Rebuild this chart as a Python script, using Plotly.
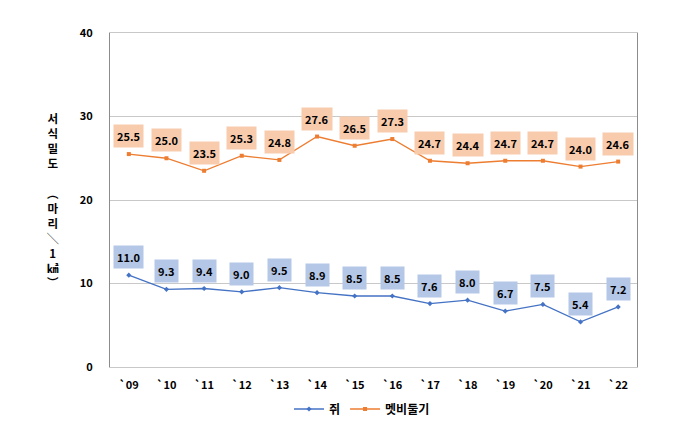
import plotly.graph_objects as go

years = ["`09", "`10", "`11", "`12", "`13", "`14", "`15", "`16", "`17", "`18", "`19", "`20", "`21", "`22"]
rat = [11.0, 9.3, 9.4, 9.0, 9.5, 8.9, 8.5, 8.5, 7.6, 8.0, 6.7, 7.5, 5.4, 7.2]
dove = [25.5, 25.0, 23.5, 25.3, 24.8, 27.6, 26.5, 27.3, 24.7, 24.4, 24.7, 24.7, 24.0, 24.6]
y_ticks = [0, 10, 20, 30, 40]
y_title = "서<br>식<br>밀<br>도<br> <br>︵<br>마<br>리<br>╲<br>1<br>㎢<br>︶"

FONT = "Noto Sans CJK KR"
BLUE = "#4472C4"
ORANGE = "#ED7D31"
BLUE_BOX = "#B4C7E7"
ORANGE_BOX = "#F8CBAD"

OFF = 8  # page body margin of the html page
W, H = 689 - OFF, 428 - OFF
ML, MR, MT, MB = 110 - OFF, 52, 33 - OFF, 61
PW, PH = W - ML - MR, H - MT - MB


def px_x(xp):
    return (xp - OFF - ML) / PW


def px_y(yp):
    return (H - MB - (yp - OFF)) / PH


fig = go.Figure()
fig.add_trace(go.Scatter(
    x=years, y=rat, name="쥐", mode="lines+markers",
    line=dict(color=BLUE, width=1.3),
    marker=dict(symbol="diamond", size=4, color=BLUE),
))
fig.add_trace(go.Scatter(
    x=years, y=dove, name="멧비둘기", mode="lines+markers",
    line=dict(color=ORANGE, width=1.3),
    marker=dict(symbol="square", size=4, color=ORANGE),
))

annotations = []
for series, box in ((rat, BLUE_BOX), (dove, ORANGE_BOX)):
    for xv, yv in zip(years, series):
        annotations.append(dict(
            x=xv, y=yv, xref="x", yref="y", text=f"{yv:.1f}",
            showarrow=False, yshift=18, yanchor="middle",
            bgcolor=box, borderpad=3,
            font=dict(family=FONT, size=11, color="#000000", weight="bold"),
        ))

annotations.append(dict(
    x=px_x(53), y=px_y(200), xref="paper", yref="paper",
    text=y_title, showarrow=False, xanchor="center", yanchor="middle",
    font=dict(family=FONT, size=11.5, color="#000000", weight="bold"),
))

fig.update_layout(
    width=W, height=H,
    margin=dict(l=ML, r=MR, t=MT, b=MB, autoexpand=False),
    paper_bgcolor="white", plot_bgcolor="white",
    font=dict(family=FONT, size=11, color="#000000"),
    showlegend=True,
    legend=dict(
        orientation="h", x=px_x(362), y=px_y(409),
        xanchor="center", yanchor="middle",
        font=dict(family=FONT, size=12, color="#000000", weight="bold"),
        itemwidth=30, tracegroupgap=0,
    ),
    annotations=annotations,
)

fig.update_xaxes(
    type="category", range=[-0.5, len(years) - 0.5],
    showgrid=False, showline=True, linecolor="#c8c8c8", linewidth=1, mirror=True,
    ticks="", tickfont=dict(family=FONT, size=11, color="#000000", weight="bold"),
    ticklabelstandoff=8,
)
fig.update_yaxes(
    range=[0, 40], tickvals=y_ticks, showgrid=True, gridcolor="#c8c8c8", gridwidth=1,
    showline=True, linecolor="#8c8c8c", linewidth=1, mirror=True, zeroline=False,
    ticks="", tickfont=dict(family=FONT, size=11, color="#000000", weight="bold"),
    ticklabelstandoff=14,
)

fig.write_html("out.html")
